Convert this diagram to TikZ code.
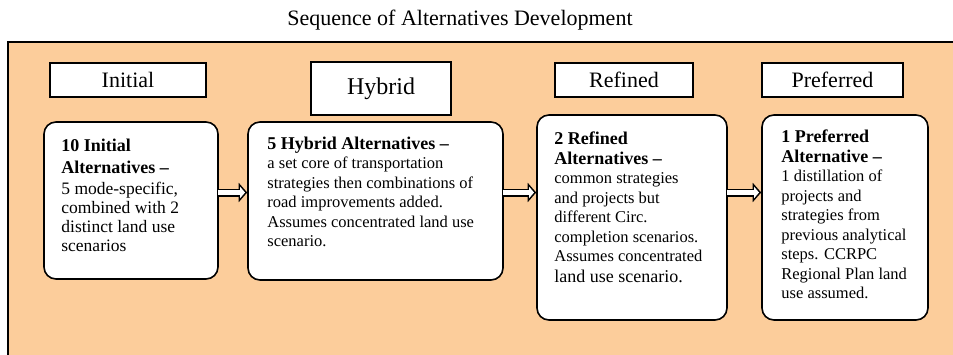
\documentclass[tikz,border=0pt]{standalone}
\usepackage{fontspec}
\setmainfont{Liberation Serif}
\usetikzlibrary{arrows.meta, positioning}
\definecolor{panelorange}{RGB}{252,205,155}
\newcommand{\stagehead}{\fontsize{18}{22.5}\selectfont\bfseries}

\begin{document}
\begin{tikzpicture}[
    x=1pt, y=-1pt,
    phase/.style={draw, line width=1.4pt, fill=white, inner sep=0pt, minimum height=34pt, font=\fontsize{22}{24}\selectfont},
    stagebox/.style={draw, line width=1.6pt, fill=white, rounded corners=12pt, inner sep=0pt},
    desc/.style={anchor=north west, inner sep=0pt, align=left, font=\fontsize{16.5}{19.5}\selectfont},
    flowedge/.style={black, line width=8pt, -{Triangle[length=8.5pt, width=19pt]}},
    flowfill/.style={white, line width=4.5pt, shorten >=2.2pt, -{Triangle[length=4.8pt, width=11pt]}},
]
    \useasboundingbox (0,0) rectangle (953,354);

    % title and panel
    \node[font=\fontsize{22}{24}\selectfont] (title) at (460,20) {Sequence of Alternatives Development};
    \fill[panelorange] (8,42) rectangle (960,360);
    \draw[line width=2.5pt] (960,42) -- (8,42) -- (8,360);

    % phase labels
    \node[phase, minimum width=156pt] (initial) at (128,80) {Initial};
    \node[phase, minimum width=140pt, minimum height=53pt, font=\fontsize{24}{26}\selectfont] (hybrid) at (381,88.5) {Hybrid};
    \node[phase, minimum width=138pt] (refined) at (624,80) {Refined};
    \node[phase, minimum width=141pt] (preferred) at (832.5,80) {Preferred};

    % stage boxes
    \node[stagebox, minimum width=174pt, minimum height=157pt] (initbox) at (131,200.5) {};
    \node[stagebox, minimum width=255pt, minimum height=158pt] (hybbox) at (375.5,201) {};
    \node[stagebox, minimum width=190pt, minimum height=205pt] (refbox) at (632,217.5) {};
    \node[stagebox, minimum width=166pt, minimum height=205pt] (prefbox) at (845,217.5) {};

    % box texts
    \node[desc, font=\fontsize{17.5}{19}\selectfont] (inittext) at ([xshift=18pt,yshift=-17.2pt]initbox.north west)
        {{\stagehead 10 Initial}\\[3pt]{\stagehead Alternatives --}\\[2pt]5 mode-specific,\\combined with 2\\distinct land use\\scenarios};
    \node[desc] (hybtext) at ([xshift=20pt,yshift=-15.5pt]hybbox.north west)
        {{\stagehead 5 Hybrid Alternatives --}\\a set core of transportation\\strategies then combinations of\\road improvements added.\\Assumes concentrated land use\\scenario.};
    \node[desc] (reftext) at ([xshift=18pt,yshift=-17.5pt]refbox.north west)
        {{\stagehead 2 Refined}\\{\stagehead Alternatives --}\\common strategies\\and projects but\\different Circ.\\completion scenarios.\\Assumes concentrated\\[1pt]{\fontsize{18}{20}\selectfont land use scenario.}};
    \node[desc] (preftext) at ([xshift=20pt,yshift=-15.5pt]prefbox.north west)
        {{\stagehead 1 Preferred}\\{\stagehead Alternative --}\\1 distillation of\\projects and\\strategies from\\previous analytical\\steps. CCRPC\\Regional Plan land\\use assumed.};

    % arrows between stages
    \coordinate (arrowrow) at (0,192.5);
    \foreach \from/\to in {initbox/hybbox, hybbox/refbox, refbox/prefbox} {
        \draw[flowedge] (\from.east |- arrowrow) -- (\to.west |- arrowrow);
        \draw[flowfill] ([xshift=-1pt]\from.east |- arrowrow) -- (\to.west |- arrowrow);
    }
\end{tikzpicture}
\end{document}
